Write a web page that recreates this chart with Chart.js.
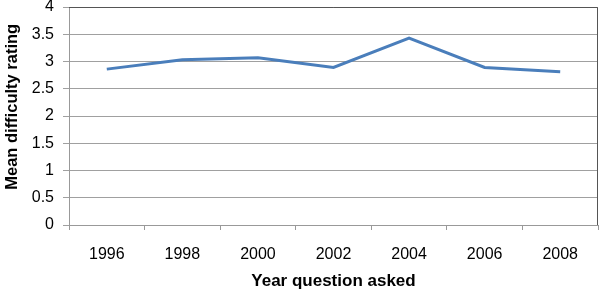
<!DOCTYPE html>
<html>
<head>
<meta charset="utf-8">
<script src="https://cdn.jsdelivr.net/npm/chart.js@4.4.0/dist/chart.umd.min.js"></script>
<style>
  html, body { margin: 0; padding: 0; background: #fff; }
  #wrap { width: 606px; height: 296px; }
</style>
</head>
<body>
<div id="wrap"><canvas id="chart" width="606" height="296"></canvas></div>
<script>
// Datos
const years = ['1996', '1998', '2000', '2002', '2004', '2006', '2008'];
const meanDifficulty = [2.86, 3.03, 3.07, 2.89, 3.43, 2.89, 2.81];
const yTicks = [0, 0.5, 1, 1.5, 2, 2.5, 3, 3.5, 4];

Chart.defaults.font.family = "'Liberation Sans', Arial, sans-serif";
Chart.defaults.color = '#000';

// Marco del área de trazado (arriba y derecha)
const frame = {
    id: 'frame',
    afterDraw(chart) {
        const a = chart.chartArea;
        const ctx = chart.ctx;
        ctx.save();
        ctx.strokeStyle = '#555';
        ctx.lineWidth = 1;
        ctx.beginPath();
        ctx.moveTo(a.left, a.top + 0.5);
        ctx.lineTo(a.right - 0.5, a.top + 0.5);
        ctx.lineTo(a.right - 0.5, a.bottom);
        ctx.stroke();
        ctx.restore();
    }
};

new Chart(document.getElementById('chart'), {
    type: 'line',
    data: {
        labels: years,
        datasets: [{
            data: meanDifficulty,
            borderColor: '#4a7ebb',
            borderWidth: 3,
            pointRadius: 0,
            fill: false,
            tension: 0
        }]
    },
    options: {
        responsive: false,
        animation: false,
        layout: { padding: { top: 7, right: 8, left: 0, bottom: 0 } },
        plugins: { legend: { display: false }, tooltip: { enabled: false } },
        scales: {
            x: {
                offset: true,
                grid: { offset: true, drawOnChartArea: false, tickLength: 5, color: '#999' },
                border: { color: '#999' },
                ticks: { font: { size: 16 }, padding: 15, maxRotation: 0 },
                title: { display: true, text: 'Year question asked', font: { size: 17, weight: 'bold' }, padding: { top: 4 } },
                afterFit(s) { s.height = 71; }
            },
            y: {
                min: 0,
                max: 4,
                afterBuildTicks(s) { s.ticks = yTicks.map(v => ({ value: v })); },
                grid: { color: '#a0a0a0', tickLength: 6 },
                border: { color: '#999' },
                ticks: { font: { size: 16 }, padding: 9, callback: v => String(v) },
                // espacios iniciales: el título queda algo más arriba, como en el original
                title: { display: true, text: '    Mean difficulty rating', font: { size: 16.5, weight: 'bold' }, padding: { top: 3, bottom: 0 } },
                afterFit(s) {
                    s.width = 69;
                    s.paddingTop = 0;
                    s.paddingBottom = 0;
                }
            }
        }
    },
    plugins: [frame]
});
</script>
</body>
</html>
